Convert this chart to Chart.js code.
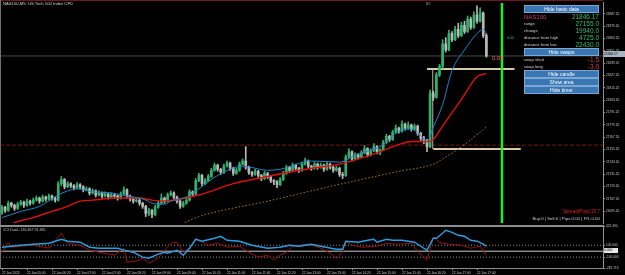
<!DOCTYPE html>
<html>
<head>
<meta charset="UTF-8" />
<title>NAS100, M5</title>
<style>
  body { margin: 0; background: #000; }
  #wrap { position: relative; width: 625px; height: 275px; background: #000; overflow: hidden;
          font-family: "Liberation Sans", "DejaVu Sans", sans-serif; }
  canvas { position: absolute; left: 0; }
  #mainChart { top: 0; }
  #cciChart { top: 223px; }
  .line { position: absolute; }
  .t { position: absolute; white-space: nowrap; line-height: 1; }
  .btn { position: absolute; left: 524px; width: 75px; box-sizing: border-box; background: #3a76b2;
         border: 1px solid #7aa8d6; color: #fff; font-size: 5px; text-align: center; white-space: nowrap; }
  .lbl { position: absolute; left: 524px; color: #cfcfcf; font-size: 4.2px; line-height: 1; white-space: nowrap; }
  .val { position: absolute; right: 26px; color: #2fbf71; font-size: 6.5px; line-height: 1; white-space: nowrap; }
</style>
<script src="https://cdn.jsdelivr.net/npm/chart.js"></script>
</head>
<body>
<div id="wrap">
  <canvas id="mainChart" width="625" height="226"></canvas>
  <canvas id="cciChart" width="625" height="52"></canvas>

  <!-- frame -->
  <div class="line" style="left:0;top:0;width:603px;height:1px;background:#6a1a1a"></div>
  <div class="line" style="left:0;top:0;width:1px;height:268px;background:#707070"></div>
  <div class="line" style="left:0;top:225px;width:604px;height:2px;background:#8c8c8c"></div>
  <div class="line" style="left:0;top:268px;width:604px;height:1px;background:#8c8c8c"></div>

  <div class="t" style="left:3px;top:2px;font-size:4.2px;color:#d0d0d0">NAS100,M5:  US Tech 100 Index CFD</div>
  <div class="t" style="left:426px;top:2px;font-size:4.2px;color:#a0a0a0">82</div>
  <div class="t" style="left:507px;top:37px;font-size:3.6px;color:#2fbf71">0.00</div>
  <div class="t" style="left:492px;top:55px;font-size:6px;color:#ff5a5a">0:03</div>

  <!-- info panel -->
  <div class="btn" style="top:5px;height:8px;line-height:6px">Hide basic data</div>
  <div class="lbl" style="top:14px;font-size:6px;color:#c4406c">NAS100</div>
  <div class="val" style="top:14px">21846.17</div>
  <div class="lbl" style="top:22px">range</div>
  <div class="val" style="top:21px">27155.0</div>
  <div class="lbl" style="top:29px">change</div>
  <div class="val" style="top:28px">19940.0</div>
  <div class="lbl" style="top:36px">distance from high</div>
  <div class="val" style="top:35px">4725.0</div>
  <div class="lbl" style="top:43px">distance from low</div>
  <div class="val" style="top:42px">22430.0</div>
  <div class="btn" style="top:48px;height:8px;line-height:6px">Hide swaps</div>
  <div class="lbl" style="top:58px">swap short</div>
  <div class="val" style="top:57px;color:#e04040">-1.5</div>
  <div class="lbl" style="top:65px">swap long</div>
  <div class="val" style="top:64px;color:#e04040">-3.0</div>
  <div class="btn" style="top:70px;height:8px;line-height:6px">Hide candle</div>
  <div class="btn" style="top:78px;height:8px;line-height:6px">Show area</div>
  <div class="btn" style="top:86px;height:8px;line-height:6px">Hide timer</div>

  <div class="t" style="right:25px;top:210px;font-size:4.6px;color:#e02020">Spread(Pips):16.7</div>
  <div class="t" style="right:25px;top:217px;font-size:4.4px;color:#c8c8c8">Buy:0 | Sell:0 | Pips:0.00 | P/L:0.00</div>

  <div class="t" style="left:604px;top:51px;width:21px;height:6px;background:#a9b4bf;color:#000;font-size:3.3px;line-height:6px">21846.17</div>
  <div class="t" style="left:3px;top:229px;font-size:3.6px;color:#c8c8c8">CCI Dual - 116.467 91.365</div>
  <div class="t" style="left:604px;top:248px;width:14px;height:5px;background:#e6e6e6;color:#000;font-size:3.3px;line-height:5px">0.000</div>
</div>

<script>
// candles, M5 bars from 22 Jan 05:00
const opens = [
  21694,21699,21696,21703,21701,21698,21702,21704,21701,21705,
  21703,21706,21708,21705,21709,21707,21710,21708,21706,21722,
  21726,21719,21722,21720,21718,21721,21719,21716,21717,21713,
  21715,21711,21713,21710,21712,21709,21711,21710,21708,21712,
  21716,21710,21707,21705,21706,21703,21700,21693,21696,21692,
  21699,21703,21708,21705,21711,21713,21709,21705,21700,21703,
  21706,21714,21712,21725,21730,21722,21725,21729,21735,21740,
  21736,21733,21739,21742,21737,21732,21735,21741,21744,21738,
  21733,21731,21734,21730,21727,21732,21729,21725,21724,21721,
  21726,21732,21738,21735,21740,21737,21735,21741,21744,21739,
  21737,21741,21738,21740,21736,21741,21738,21735,21737,21731,
  21730,21748,21753,21746,21750,21748,21752,21756,21750,21754,
  21758,21753,21755,21762,21768,21765,21772,21776,21773,21780,
  21776,21779,21775,21778,21771,21766,21763,21758,21810,21806,
  21828,21836,21858,21852,21868,21862,21872,21866,21876,21870,
  21882,21874,21886,21880,21888,21866
];
const highs = [
  21701,21700,21705,21704,21702,21704,21706,21705,21707,21706,
  21708,21710,21709,21711,21710,21712,21711,21709,21724,21729,
  21727,21724,21723,21721,21723,21722,21720,21719,21718,21717,
  21716,21715,21714,21714,21713,21713,21712,21711,21714,21719,
  21717,21711,21708,21708,21707,21704,21701,21698,21697,21701,
  21705,21712,21709,21713,21715,21714,21710,21706,21705,21708,
  21716,21715,21727,21732,21731,21727,21731,21737,21742,21741,
  21737,21741,21744,21743,21738,21737,21743,21746,21758,21739,
  21734,21736,21735,21731,21734,21733,21730,21726,21725,21728,
  21734,21740,21739,21742,21741,21738,21743,21747,21745,21740,
  21743,21742,21742,21741,21743,21742,21739,21739,21738,21733,
  21750,21756,21754,21752,21751,21754,21759,21757,21756,21761,
  21759,21756,21764,21770,21769,21774,21779,21777,21783,21781,
  21782,21780,21780,21779,21772,21768,21765,21813,21812,21830,
  21838,21862,21864,21871,21870,21875,21878,21879,21880,21885,
  21884,21889,21895,21893,21889,21868
];
const lows = [
  21692,21694,21695,21699,21696,21697,21701,21699,21700,21701,
  21702,21705,21703,21704,21705,21706,21706,21704,21705,21720,
  21717,21718,21718,21716,21717,21717,21714,21715,21711,21712,
  21709,21710,21708,21709,21707,21708,21708,21706,21707,21711,
  21708,21705,21703,21704,21701,21698,21690,21691,21689,21691,
  21698,21702,21703,21704,21710,21707,21703,21698,21699,21702,
  21705,21710,21711,21724,21720,21721,21724,21728,21734,21734,
  21731,21732,21738,21735,21730,21731,21734,21740,21736,21731,
  21729,21730,21728,21725,21726,21727,21723,21721,21718,21720,
  21725,21731,21733,21734,21735,21733,21734,21740,21737,21735,
  21736,21736,21737,21734,21735,21736,21733,21734,21729,21727,
  21729,21747,21744,21745,21746,21747,21751,21748,21749,21753,
  21751,21750,21754,21761,21763,21764,21771,21771,21772,21774,
  21775,21773,21774,21769,21764,21761,21753,21757,21803,21805,
  21826,21834,21850,21851,21860,21861,21864,21865,21868,21869,
  21872,21873,21878,21879,21864,21845
];
const closes = [
  21699,21696,21703,21701,21698,21702,21704,21701,21705,21703,
  21706,21708,21705,21709,21707,21710,21708,21706,21722,21726,
  21719,21722,21720,21718,21721,21719,21716,21717,21713,21715,
  21711,21713,21710,21712,21709,21711,21710,21708,21712,21716,
  21710,21707,21705,21706,21703,21700,21693,21696,21692,21699,
  21703,21708,21705,21711,21713,21709,21705,21700,21703,21706,
  21714,21712,21725,21730,21722,21725,21729,21735,21740,21736,
  21733,21739,21742,21737,21732,21735,21741,21744,21738,21733,
  21731,21734,21730,21727,21732,21729,21725,21724,21721,21726,
  21732,21738,21735,21740,21737,21735,21741,21744,21739,21737,
  21741,21738,21740,21736,21741,21738,21735,21737,21731,21730,
  21748,21753,21746,21750,21748,21752,21756,21750,21754,21758,
  21753,21755,21762,21768,21765,21772,21776,21773,21780,21776,
  21779,21775,21778,21771,21766,21763,21758,21810,21806,21828,
  21836,21858,21852,21868,21862,21872,21866,21876,21870,21882,
  21874,21886,21880,21888,21866,21846.17
];

// moving averages (bar index, price)
const maFastIdx = [0, 6, 12, 18, 21, 24, 29, 35, 40, 44, 46, 48, 52, 54, 59, 63, 69, 77, 85, 89, 99, 108, 114, 121, 127, 131, 134, 136, 138, 141, 144, 148, 152, 154, 155];
const maFastVal = [21689, 21695, 21700, 21711, 21715, 21717, 21714, 21713, 21710, 21708, 21706, 21703, 21702, 21705, 21709, 21717, 21730, 21739, 21735, 21736, 21744, 21743, 21751, 21758, 21773, 21775, 21769, 21763, 21777, 21799, 21832, 21852, 21868, 21872, 21868];
const maMidIdx = [0, 4, 10, 16, 21, 25, 29, 36, 44, 48, 51, 63, 74, 85, 99, 108, 119, 127, 131, 136, 138, 141, 147, 152, 155];
const maMidVal = [21677, 21684, 21689, 21695, 21700, 21705, 21706, 21708, 21708, 21706, 21705, 21711, 21722, 21729, 21737, 21741, 21751, 21760, 21763, 21763, 21765, 21778, 21804, 21826, 21829];
const maSlowIdx = [50, 56, 63, 85, 106, 127, 138, 141, 148, 155];
const maSlowVal = [21676, 21681, 21690, 21705, 21720, 21734, 21741, 21746, 21760, 21777];

// levels
const bidPrice = 21846.17;
const redLevel = 21759.5;
const boxHigh = 21833.4, boxLow = 21755.7;
const boxTopIdx = [136, 164], boxBottomIdx = [138, 166], boxSideIdx = 137.8;
const timerIdx = 160;

const priceTicks = [21695.2, 21707.2, 21719.2, 21731.2, 21743.2, 21755.2, 21767.2, 21779.2, 21791.2,
                    21803.2, 21815.2, 21827.2, 21839.2, 21851.2, 21863.2, 21875.2, 21887.2];

// CCI dual
const cciFastIdx = [0,3,6,10,15,19,21,25,28,31,37,39,42,45,47,50,52,53,56,58,60,62,64,68,70,72,76,80,85,89,92,95,99,102,107,109,110,114,117,119,120,123,125,128,132,135,136,138,139,141,142,144,146,148,150,152,154,155];
const cciFastVal = [67,83,100,117,133,200,167,150,67,50,50,17,-17,-100,-117,-50,-17,-33,17,-67,50,200,167,217,250,183,167,100,50,67,100,83,117,83,33,33,167,150,183,200,150,200,183,183,150,50,17,217,217,300,350,317,267,250,183,167,117,83];
const cciSlowIdx = [0,2,3,6,10,15,19,21,25,28,31,36,39,40,43,45,47,50,52,54,56,58,60,62,66,69,72,76,79,82,85,87,89,91,93,98,102,105,107,109,110,112,115,120,123,126,131,133,135,136,138,140,143,147,150,153,155];
const cciSlowVal = [-17,150,67,83,100,50,300,133,100,17,-17,-67,50,-183,-167,-117,-200,-117,17,133,150,-17,50,217,100,133,67,83,-17,-100,-67,-150,-67,-17,83,117,50,-33,-117,-17,167,100,67,83,133,117,133,0,-100,-150,233,150,117,100,50,83,-67];
const cciTicks = [422.49, 100, 0, -100, -281.713];

const timeIdx = [0, 8, 16, 24, 32, 40, 48, 56, 64, 72, 80, 88, 96, 104, 112, 120, 128, 136, 144, 152];
const timeLabels = ["22 Jan 2025", "22 Jan 05:40", "22 Jan 06:20", "22 Jan 07:00", "22 Jan 07:40",
  "22 Jan 08:20", "22 Jan 09:00", "22 Jan 09:40", "22 Jan 10:20", "22 Jan 11:00", "22 Jan 11:40",
  "22 Jan 12:20", "22 Jan 13:00", "22 Jan 13:40", "22 Jan 14:20", "22 Jan 15:00", "22 Jan 15:40",
  "22 Jan 16:20", "22 Jan 17:00", "22 Jan 17:40"];

// view window (bar index at left and right edge)
const xMin = -0.64, xMax = 192.32;
const yMin = 21683.68, yMax = 21897.76;

const axisFont = { size: 3.2, family: "Liberation Sans" };
const idx = closes.map((c, i) => i);
const candleColor = i => closes[i] >= opens[i] ? '#2fb36a' : '#b8b8b8';
const pts = (xs, ys) => xs.map((x, k) => ({ x: x, y: ys[k] }));

function lineSet(data, color, width, extra) {
  return Object.assign({
    type: 'line', data: data, borderColor: color, borderWidth: width,
    pointRadius: 0, fill: false, tension: 0
  }, extra || {});
}

new Chart(document.getElementById('mainChart'), {
  type: 'bar',
  data: {
    datasets: [
      lineSet(pts([timerIdx, timerIdx], [yMax, yMin]), '#22ee22', 2.5, { order: 0 }),
      lineSet(pts(maFastIdx, maFastVal), '#1b86c4', 1, { order: 1, cubicInterpolationMode: 'monotone' }),
      lineSet(pts(maMidIdx, maMidVal), '#e00e0e', 1.4, { order: 1, cubicInterpolationMode: 'monotone' }),
      lineSet(pts(maSlowIdx, maSlowVal), '#a87a2a', 1, { order: 1, borderDash: [1.5, 2], cubicInterpolationMode: 'monotone' }),
      { type: 'bar', data: idx.map(i => ({ x: i, y: [opens[i], closes[i]] })), backgroundColor: idx.map(candleColor),
        barThickness: 2, grouped: false, order: 3 },
      { type: 'bar', data: idx.map(i => ({ x: i, y: [lows[i], highs[i]] })), backgroundColor: idx.map(candleColor),
        barThickness: 1, grouped: false, order: 4 },
      lineSet(pts(boxTopIdx, [boxHigh, boxHigh]), '#d6c7a6', 2, { order: 5 }),
      lineSet(pts(boxBottomIdx, [boxLow, boxLow]), '#d6c7a6', 2, { order: 5 }),
      lineSet(pts([boxSideIdx, boxSideIdx], [boxHigh, boxLow]), '#8a8a8a', 1, { order: 5 }),
      lineSet(pts([xMin, xMax], [bidPrice, bidPrice]), '#4a4a4a', 1, { order: 6 }),
      lineSet(pts([xMin, xMax], [redLevel, redLevel]), '#7a1414', 1, { order: 6, borderDash: [4, 2] })
    ]
  },
  options: {
    responsive: false, animation: false, devicePixelRatio: 1,
    layout: { padding: { top: 2, bottom: 1, left: 0, right: 0 } },
    plugins: { legend: { display: false }, tooltip: { enabled: false } },
    scales: {
      x: { type: 'linear', min: xMin, max: xMax, offset: false, display: false, grid: { offset: false } },
      y: {
        position: 'right', min: yMin, max: yMax, beginAtZero: false,
        afterBuildTicks: s => { s.ticks = priceTicks.map(v => ({ value: v })); },
        afterFit: s => { s.width = 22; },
        ticks: { color: '#c8c8c8', font: axisFont, padding: 1, callback: v => v.toFixed(2) },
        grid: { drawOnChartArea: false, color: '#909090', tickLength: 2 },
        border: { color: '#909090' }
      }
    }
  }
});

new Chart(document.getElementById('cciChart'), {
  type: 'line',
  data: {
    datasets: [
      lineSet(pts(cciFastIdx, cciFastVal), '#2a9fe0', 1.4, { order: 0 }),
      lineSet(pts(cciSlowIdx, cciSlowVal), '#9a1010', 1, { order: 1 }),
      lineSet(pts([xMin, xMax], [100, 100]), '#8a8a8a', 1, { order: 2, borderDash: [1, 2] }),
      lineSet(pts([xMin, xMax], [-100, -100]), '#8a8a8a', 1, { order: 2, borderDash: [1, 2] }),
      lineSet(pts([xMin, xMax], [0, 0]), '#c8c8c8', 1, { order: 2 })
    ]
  },
  options: {
    responsive: false, animation: false, devicePixelRatio: 1,
    layout: { padding: { top: 3, bottom: 0, left: 0, right: 0 } },
    plugins: { legend: { display: false }, tooltip: { enabled: false } },
    scales: {
      x: {
        type: 'linear', min: xMin, max: xMax, offset: false,
        afterBuildTicks: s => { s.ticks = timeIdx.map(v => ({ value: v })); },
        afterFit: s => { s.height = 7; },
        ticks: { color: '#c8c8c8', font: axisFont, align: 'start', padding: 1, maxRotation: 0, autoSkip: false,
                 callback: v => timeLabels[timeIdx.indexOf(v)] },
        grid: { drawOnChartArea: false, color: '#909090', tickLength: 2 },
        border: { color: '#909090' }
      },
      y: {
        position: 'right', min: -281.713, max: 422.49,
        afterBuildTicks: s => { s.ticks = cciTicks.map(v => ({ value: v })); },
        afterFit: s => { s.width = 22; },
        ticks: { color: '#c8c8c8', font: axisFont, padding: 1, callback: v => v.toFixed(3) },
        grid: { drawOnChartArea: false, color: '#909090', tickLength: 2 },
        border: { color: '#909090' }
      }
    }
  }
});
</script>
</body>
</html>
